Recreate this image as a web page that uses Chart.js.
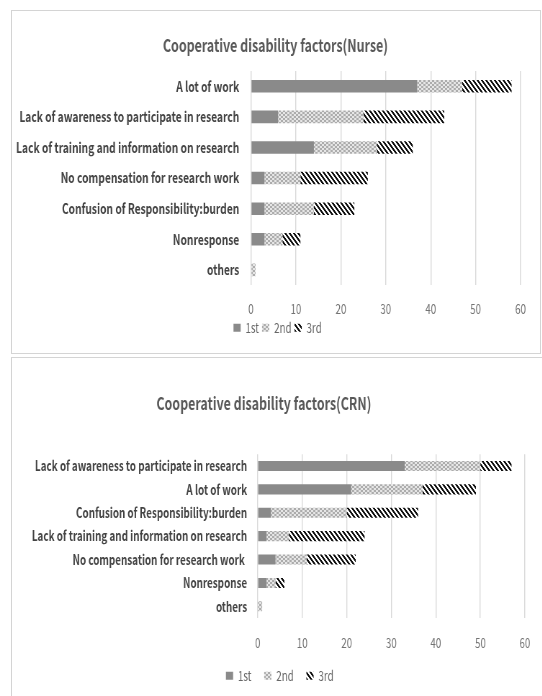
<!DOCTYPE html>
<html>
<head>
<meta charset="utf-8">
<script src="https://cdn.jsdelivr.net/npm/chart.js@4.4.1/dist/chart.umd.min.js"></script>
<style>
  html, body { margin: 0; padding: 0; background: #fff; overflow: hidden; }
  body { width: 542px; height: 696px; position: relative; }
  .box { position: absolute; border: 1px solid #d4d4d4; box-sizing: border-box; }
  /* the source picture is squeezed sideways, so draw wide and squeeze */
  .wrap { position: absolute; left: 0; width: 753px; transform: scaleX(0.72); transform-origin: 0 0; }
</style>
</head>
<body>
<div class="box" style="left:11px; top:10px; width:530px; height:344px;"></div>
<div class="box" style="left:11px; top:357px; width:600px; height:400px;"></div>
<div class="wrap" style="top:0; height:356px;"><canvas id="nurseChart"></canvas></div>
<div class="wrap" style="top:356px; height:340px;"><canvas id="crnChart"></canvas></div>
<script>
// Values
const seriesNames = ['1st', '2nd', '3rd'];
const xTicks = [0, 10, 20, 30, 40, 50, 60];

const nurseCategories = ['A lot of work', 'Lack of awareness to participate in research',
  'Lack of training and information on research', 'No compensation for research work',
  'Confusion of Responsibility:burden', 'Nonresponse', 'others'];
const nurse1st = [37, 6, 14, 3, 3, 3, 0];
const nurse2nd = [10, 19, 14, 8, 11, 4, 1];
const nurse3rd = [11, 18, 8, 15, 9, 4, 0];

const crnCategories = ['Lack of awareness to participate in research', 'A lot of work',
  'Confusion of Responsibility:burden', 'Lack of training and information on research',
  'No compensation for research work ', 'Nonresponse', 'others'];
const crn1st = [33, 21, 3, 2, 4, 2, 0];
const crn2nd = [17, 16, 17, 5, 7, 2, 1];
const crn3rd = [7, 12, 16, 17, 11, 2, 0];

Chart.defaults.font.family = "'Noto Sans CJK KR', 'Noto Sans', sans-serif";

function makeTile(w, h, pixelFn) {
  const c = document.createElement('canvas');
  c.width = w; c.height = h;
  const ctx = c.getContext('2d');
  for (let y = 0; y < h; y++) {
    for (let x = 0; x < w; x++) {
      ctx.fillStyle = pixelFn(x, y);
      ctx.fillRect(x, y, 1, 1);
    }
  }
  return ctx.createPattern(c, 'repeat');
}

const fill1st = '#8a8a8a';
// checker of 3x2 cells (about 2x2 once squeezed)
const fill2nd = makeTile(6, 4, (x, y) => ((Math.floor(x / 3) + Math.floor(y / 2)) % 2) ? '#e6e6e6' : '#acacac');
const fill3rd = makeTile(6, 6, (x, y) => ((x - y + 12) % 6 < 3) ? '#111111' : '#ffffff');

// nudges title and legend sideways after layout
const blockShift = {
  id: 'blockShift',
  afterLayout(chart, args, opts) {
    const t = chart.titleBlock, l = chart.legend;
    if (t && opts.title) { t.left += opts.title; t.right += opts.title; }
    if (l && opts.legend) { l.left += opts.legend; l.right += opts.legend; }
  }
};

function buildChart(id, cfg) {
  const datasets = [cfg.first, cfg.second, cfg.third].map((values, i) => ({
    label: seriesNames[i],
    data: values,
    backgroundColor: [fill1st, fill2nd, fill3rd][i],
    borderWidth: 0,
    categoryPercentage: 1,
    barPercentage: cfg.barPct
  }));

  return new Chart(document.getElementById(id), {
    type: 'bar',
    data: { labels: cfg.labels, datasets },
    plugins: [blockShift],
    options: {
      indexAxis: 'y',
      responsive: true,
      maintainAspectRatio: false,
      animation: false,
      layout: { padding: cfg.padding },
      scales: {
        x: {
          stacked: true,
          min: xTicks[0],
          max: xTicks[xTicks.length - 1],
          afterBuildTicks: scale => { scale.ticks = xTicks.map(v => ({ value: v })); },
          grid: { color: '#d9d9d9', lineWidth: 1.4, drawTicks: true, tickLength: cfg.xGap, tickColor: 'rgba(0,0,0,0)' },
          border: { display: false },
          ticks: { color: '#737373', font: { size: 13.5 }, padding: 0 }
        },
        y: {
          stacked: true,
          grid: { display: false },
          border: { display: false },
          afterFit: scale => { scale.width = cfg.yWidth; },
          ticks: { color: '#424242', font: { size: cfg.labelSize, weight: 'bold' }, padding: cfg.yPad, autoSkip: false }
        }
      },
      plugins: {
        title: {
          display: true,
          text: cfg.title,
          color: '#595959',
          font: { size: 17.3, weight: 'bold' },
          padding: cfg.titlePad
        },
        blockShift: cfg.shift,
        legend: {
          position: 'bottom',
          labels: { boxWidth: 10, boxHeight: 8, color: '#666666', font: { size: 13.5 }, padding: cfg.legendPad }
        },
        tooltip: { enabled: false }
      }
    }
  });
}

buildChart('nurseChart', {
  labels: nurseCategories, first: nurse1st, second: nurse2nd, third: nurse3rd,
  title: 'Cooperative disability factors(Nurse)',
  padding: { left: 0, right: 30, top: 0, bottom: 11.5 },
  titlePad: { top: 34.6, bottom: 15.6 },
  shift: { title: 21, legend: 24 },
  yWidth: 348.6, yPad: 8.3, labelSize: 14.2, xGap: 15.3, legendPad: 4.3, barPct: 0.41
});

buildChart('crnChart', {
  labels: crnCategories, first: crn1st, second: crn2nd, third: crn3rd,
  title: 'Cooperative disability factors(CRN)',
  padding: { left: 0, right: 24, top: 0, bottom: 3.5 },
  titlePad: { top: 37.3, bottom: 40.2 },
  shift: { title: 2, legend: 24 },
  yWidth: 357.9, yPad: 6.7, labelSize: 13.7, xGap: 17, legendPad: 17.8, barPct: 0.43
});
</script>
</body>
</html>
